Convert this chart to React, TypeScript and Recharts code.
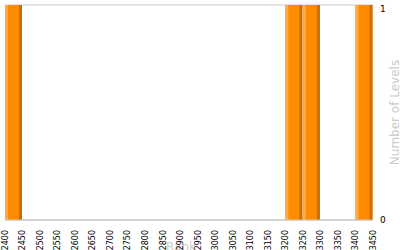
import React from 'react';
import { BarChart, Bar, XAxis, YAxis, CartesianGrid } from 'recharts';

const binStarts = [2400, 2450, 2500, 2550, 2600, 2650, 2700, 2750, 2800, 2850, 2900, 2950, 3000, 3050, 3100, 3150, 3200, 3250, 3300, 3350, 3400];
const binWidth = 50;
const counts = [1, 0, 0, 0, 0, 0, 0, 0, 0, 0, 0, 0, 0, 0, 0, 0, 1, 1, 0, 0, 1];
const xTicks = [2400, 2450, 2500, 2550, 2600, 2650, 2700, 2750, 2800, 2850, 2900, 2950, 3000, 3050, 3100, 3150, 3200, 3250, 3300, 3350, 3400, 3450];
const yTicks = [0, 1];

const data = binStarts.map((s, i) => ({ mid: s + binWidth / 2, count: counts[i] }));

const BarShape = (props: any) => {
  const { x, y, width, height } = props;
  if (!height || height <= 0) return null;
  const w = width - 1;
  return (
    <g>
      <rect x={x} y={y} width={w} height={height} fill="#FF8C00" />
      <rect x={x} y={y} width={3} height={height} fill="#FFAA4A" />
      <rect x={x + w - 3} y={y} width={3} height={height} fill="#C8700A" />
    </g>
  );
};

const XTick = (props: any) => {
  const { x, y, payload } = props;
  return (
    <text
      x={x}
      y={y}
      transform={`rotate(-90, ${x}, ${y})`}
      textAnchor="end"
      dy="0.35em"
      dx={-2}
      fontSize={8}
      fontFamily="DejaVu Sans"
      fill="#000"
    >
      {payload.value}
    </text>
  );
};

const YTick = (props: any) => {
  const { x, y, payload } = props;
  return (
    <text x={x - 1} y={y} dy="0.35em" textAnchor="start" fontSize={9} fontFamily="DejaVu Sans" fill="#000">
      {payload.value}
    </text>
  );
};

const RankLabel = (props: any) => {
  const vb = props.viewBox || {};
  const cx = (vb.x || 0) + (vb.width || 0) / 2;
  return (
    <text x={cx - 8} y={251} textAnchor="middle" fontSize={12} fontFamily="DejaVu Sans" fill="#cccccc">
      Rank
    </text>
  );
};

export default function App() {
  return (
    <div style={{ position: 'absolute', left: 0, top: 0, width: 400, height: 250, background: '#fff', overflow: 'hidden' }}>
      <BarChart
        width={400}
        height={250}
        data={data}
        margin={{ top: 5, right: 0, left: 5, bottom: 0 }}
        barCategoryGap={0}
        barGap={0}
      >
        <CartesianGrid horizontal={true} vertical={false} stroke="#c8c8c8" />
        <XAxis
          type="number"
          dataKey="mid"
          domain={[2400, 3450]}
          ticks={xTicks}
          interval={0}
          height={30}
          tickLine={false}
          axisLine={{ stroke: '#c8c8c8' }}
          tick={<XTick />}
          allowDataOverflow
          label={<RankLabel />}
        />
        <YAxis
          orientation="right"
          domain={[0, 1]}
          ticks={yTicks}
          width={27}
          axisLine={false}
          tickLine={false}
          tick={<YTick />}
          label={{ value: 'Number of Levels', angle: -90, position: 'insideRight', offset: 5, fill: '#cccccc', fontSize: 12, fontFamily: 'DejaVu Sans', style: { textAnchor: 'middle' } }}
        />
        <Bar dataKey="count" shape={<BarShape />} isAnimationActive={false} />
      </BarChart>
    </div>
  );
}
